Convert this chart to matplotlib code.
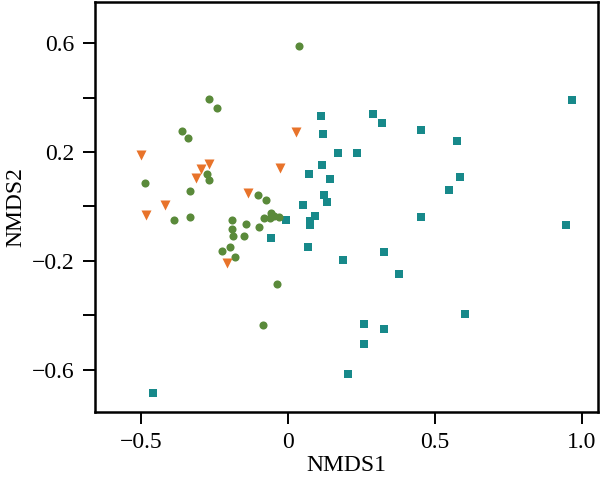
import numpy as np
import matplotlib
matplotlib.use("Agg")
import matplotlib.pyplot as plt
from matplotlib import rcParams
rcParams['font.family'] = ['Liberation Serif', 'DejaVu Serif']
rcParams['axes.unicode_minus'] = True

# group 1: green circles
green_x = [0.038, -0.271, -0.243, -0.363, -0.343, -0.276, -0.271, -0.489, -0.333, -0.103,
           -0.076, -0.388, -0.333, -0.190, -0.190, -0.187, -0.143, -0.149, -0.098, -0.084,
           -0.058, -0.061, -0.048, -0.033, -0.199, -0.225, -0.183, -0.039, -0.086]
green_y = [0.590, 0.394, 0.361, 0.276, 0.253, 0.119, 0.097, 0.088, 0.057, 0.043,
           0.025, -0.050, -0.037, -0.050, -0.083, -0.110, -0.064, -0.108, -0.074, -0.041,
           -0.025, -0.042, -0.034, -0.040, -0.150, -0.162, -0.187, -0.284, -0.436]

# group 2: orange triangles
orange_x = [-0.500, -0.270, -0.296, -0.315, 0.026, -0.028, -0.137, -0.419, -0.486, -0.210]
orange_y = [0.189, 0.156, 0.139, 0.104, 0.275, 0.143, 0.049, 0.007, -0.031, -0.207]

# group 3: teal squares
teal_x = [-0.460, -0.058, -0.008, 0.049, 0.131, 0.092, 0.075, 0.073, 0.068, 0.188,
          0.205, 0.113, 0.117, 0.290, 0.319, 0.452, 0.575, 0.968, 0.170, 0.233,
          0.114, 0.071, 0.141, 0.584, 0.547, 0.121, 0.452, 0.946, 0.327, 0.377,
          0.601, 0.259, 0.326, 0.257]
teal_y = [-0.687, -0.117, -0.048, 0.004, 0.015, -0.035, -0.052, -0.068, -0.148, -0.198,
          -0.617, 0.333, 0.265, 0.340, 0.308, 0.281, 0.240, 0.390, 0.197, 0.197,
          0.153, 0.118, 0.100, 0.107, 0.061, 0.041, -0.040, -0.069, -0.166, -0.248,
          -0.394, -0.434, -0.452, -0.504]

xticks = [-0.5, 0.0, 0.5, 1.0]
xticklabels = ['\u22120.5', '0', '0.5', '1.0']
yticks = [-0.6, -0.4, -0.2, 0.0, 0.2, 0.4, 0.6]
yticklabels = ['\u22120.6', '', '\u22120.2', '', '0.2', '', '0.6']

fig = plt.figure(figsize=(6.0, 4.83), dpi=100)
ax = fig.add_axes([0.158, 0.148, 0.839, 0.848])

ax.scatter(teal_x, teal_y, marker='s', s=30, color='#17898a', linewidths=0, zorder=3)
ax.scatter(green_x, green_y, marker='o', s=34, color='#5a8a3a', linewidths=0, zorder=3)
ax.scatter(orange_x, orange_y, marker='v', s=52, color='#e8732a', linewidths=0, zorder=3)

ax.set_xlim(-0.659, 1.056)
ax.set_ylim(-0.754, 0.752)
ax.set_xticks(xticks)
ax.set_xticklabels(xticklabels)
ax.set_yticks(yticks)
ax.set_yticklabels(yticklabels)
ax.tick_params(direction='out', length=8.5, width=1.4, labelsize=17, pad=6, colors='black')
for sp in ax.spines.values():
    sp.set_linewidth(1.8)

ax.set_xlabel('NMDS1', fontsize=17, labelpad=2)
ax.set_ylabel('NMDS2', fontsize=17, labelpad=4)

fig.savefig('out.png', dpi=100)
